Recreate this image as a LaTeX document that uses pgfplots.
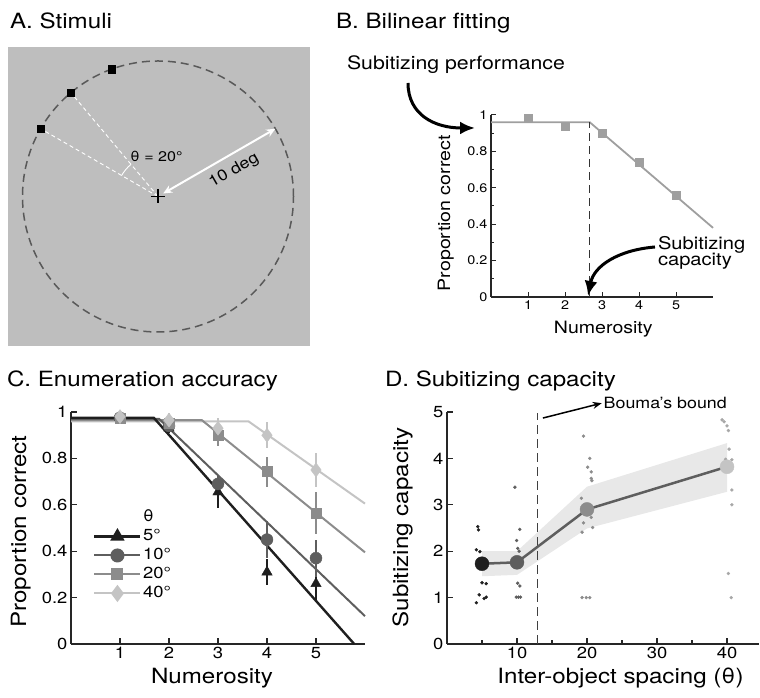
\documentclass[border=0pt]{standalone}
\usepackage{fontspec}
\setmainfont[FakeStretch=1.15]{TeX Gyre Heros}
\usepackage{pgfplots}
\pgfplotsset{compat=1.18}
\usetikzlibrary{arrows.meta}

\definecolor{bgA}{gray}{0.745}
\definecolor{dashA}{gray}{0.35}
\definecolor{c5}{gray}{0.12}
\definecolor{c10}{gray}{0.37}
\definecolor{c20}{gray}{0.55}
\definecolor{c40}{gray}{0.77}
\definecolor{band}{gray}{0.91}

\newcommand{\fs}[1]{\fontsize{#1}{#1}\selectfont}

\tikzset{lbl/.style={inner sep=0pt, outer sep=0pt}}

\pgfplotsset{
  panel/.style={
    scale only axis, anchor=south west, clip=false,
    axis x line*=bottom, axis y line*=left,
    tick align=inside,
    axis line style={line width=1.8pt, black!85},
    major tick length=6pt, minor tick length=4pt,
    every tick/.style={black!85, line width=1.2pt},
    ticklabel style={font=\fs{16}},
    /pgf/number format/assume math mode=true,
  },
}

\begin{document}
\begin{tikzpicture}[x=1pt,y=1pt]
\path[use as bounding box] (0,0) rectangle (760,698);

% ---------- titles
\node[lbl, anchor=base west, font=\fs{21}] at (10,669.7) {A. Stimuli};
\node[lbl, anchor=base west, font=\fs{21}] at (336,669.7) {B. Bilinear fitting};
\node[lbl, anchor=base west, font=\fs{21}] at (7,311.3) {C. Enumeration accuracy};
\node[lbl, anchor=base west, font=\fs{21}] at (385,311.3) {D. Subitizing capacity};

% ---------- A. Stimuli
\begin{axis}[at={(8pt,352pt)}, anchor=south west, scale only axis,
  width=302pt, height=299pt, xmin=-150, xmax=152, ymin=-149.5, ymax=149.5,
  axis lines=none, clip=false]
\fill[bgA] (axis cs:-150,-149.5) rectangle (axis cs:152,149.5);
\draw[dashA, line width=1.5pt, dash pattern=on 8pt off 5pt] (axis cs:0,0) circle[radius=135.5pt];
\addplot[white, line width=0.9pt, dash pattern=on 4pt off 3pt] coordinates {(0,0) (-87.1,103.8)};
\addplot[white, line width=0.9pt, dash pattern=on 4pt off 3pt] coordinates {(0,0) (-117.35,67.75)};
\draw[white, line width=0.9pt] (axis cs:-36.4,21) arc[start angle=150, end angle=130, radius=42pt];
\addplot[only marks, mark=square*, mark size=3.6pt, black] coordinates {(-46.34,127.33) (-87.1,103.8) (-117.35,67.75)};
\draw[white, line width=2pt, {Stealth[length=9pt,width=8pt]}-{Stealth[length=9pt,width=8pt]}] (axis cs:5.2,3) -- (axis cs:117.35,67.75);
\addplot[only marks, mark=+, mark size=7pt, line width=1.8pt, black] coordinates {(0,0)};
\node[lbl, font=\fs{14}] at (axis cs:-1.5,40.5) {θ = 20°};
\node[lbl, font=\fs{15.5}, rotate=30] at (axis cs:76,26) {10 deg};
\end{axis}

% ---------- B. Bilinear fitting
\begin{axis}[panel, at={(491pt,401pt)}, width=222pt, height=182pt,
  xmin=0, xmax=6, ymin=0, ymax=1,
  xtick={1,2,3,4,5}, ytick={0,0.2,0.4,0.6,0.8,1}, minor y tick num=1,
  axis line style={line width=1.3pt, black!85},
  major tick length=5pt, minor tick length=3pt,
  every tick/.style={black!85, line width=1pt},
  ticklabel style={font=\fs{12.5}}]
\addplot[gray!75, line width=1.8pt] coordinates {(0,0.96) (2.67,0.96) (6,0.38)};
\addplot[black!80, line width=1.2pt, dash pattern=on 8pt off 5pt] coordinates {(2.67,0) (2.67,0.96)};
\addplot[only marks, mark=square*, mark size=4pt, gray!75] coordinates {(1,0.98) (2,0.94) (3,0.90) (4,0.74) (5,0.56)};
\end{axis}
\node[lbl, anchor=base, rotate=90, font=\fs{17}] at (450,484.7) {Proportion correct};
\node[lbl, anchor=base, font=\fs{17}] at (603.3,364.7) {Numerosity};
\node[lbl, anchor=base west, font=\fs{18.5}] at (347,628) {Subitizing performance};
\node[lbl, anchor=north west, align=left, font=\fs{17.5}] at (658,462) {Subitizing\\[-1pt]capacity};
\draw[line width=3pt, -{Latex[length=15pt,width=13pt]}] (408,615) .. controls (408,583) and (435,570) .. (475,570);
\draw[line width=3pt, -{Latex[length=15pt,width=13pt]}] (655,451) .. controls (618,448) and (594,432) .. (588,402);

% ---------- C. Enumeration accuracy
\begin{axis}[panel, at={(71pt,54pt)}, width=294pt, height=232pt,
  xmin=0, xmax=6, ymin=0, ymax=1,
  xtick={1,2,3,4,5}, ytick={0,0.2,0.4,0.6,0.8,1},
  legend style={at={(0.075,0.585)}, anchor=north west, draw=none, fill=none,
    font=\fs{16}, row sep=1pt, inner sep=0pt,
    nodes={inner sep=1.5pt, text height=12pt, text depth=3pt}},
  legend cell align=left,
  legend image code/.code={\draw[mark repeat=2, mark phase=2, #1] plot coordinates {(0pt,0pt) (23pt,0pt) (46pt,0pt)};}]
\addlegendimage{empty legend}\addlegendentry{θ}
\addlegendimage{c5, line width=2.4pt, mark=triangle*, mark size=6pt, mark options={solid}}\addlegendentry{5°}
\addlegendimage{c10, line width=2pt, mark=*, mark size=6pt}\addlegendentry{10°}
\addlegendimage{c20, line width=2pt, mark=square*, mark size=5pt}\addlegendentry{20°}
\addlegendimage{c40, line width=2pt, mark=diamond*, mark size=7pt}\addlegendentry{40°}
% bilinear fits
\addplot[c40, line width=2pt, forget plot] coordinates {(0,0.96) (3.62,0.96) (6,0.605)};
\addplot[c20, line width=2pt, forget plot] coordinates {(0,0.965) (2.67,0.965) (6,0.395)};
\addplot[c10, line width=2pt, forget plot] coordinates {(0,0.97) (1.8,0.97) (6,0.12)};
\addplot[c5, line width=2.4pt, forget plot] coordinates {(0,0.975) (1.69,0.975) (5.78,0)};
% data with error bars
\addplot[c5, only marks, mark=triangle*, mark size=6pt, forget plot,
  error bars/.cd, y dir=both, y explicit, error mark=none, error bar style={line width=1.3pt}]
  coordinates {(1,0.975) +- (0,0.02) (2,0.93) +- (0,0.02) (3,0.655) +- (0,0.07) (4,0.31) +- (0,0.055) (5,0.26) +- (0,0.075)};
\addplot[c10, only marks, mark=*, mark size=6pt, forget plot,
  error bars/.cd, y dir=both, y explicit, error mark=none, error bar style={line width=1.3pt}]
  coordinates {(1,0.975) +- (0,0.02) (2,0.94) +- (0,0.02) (3,0.69) +- (0,0.04) (4,0.45) +- (0,0.08) (5,0.37) +- (0,0.08)};
\addplot[c20, only marks, mark=square*, mark size=5pt, forget plot,
  error bars/.cd, y dir=both, y explicit, error mark=none, error bar style={line width=1.3pt}]
  coordinates {(1,0.975) +- (0,0.02) (2,0.95) +- (0,0.02) (3,0.90) +- (0,0.045) (4,0.743) +- (0,0.065) (5,0.563) +- (0,0.09)};
\addplot[c40, only marks, mark=diamond*, mark size=7pt, forget plot,
  error bars/.cd, y dir=both, y explicit, error mark=none, error bar style={line width=1.3pt}]
  coordinates {(1,0.98) +- (0,0.02) (2,0.965) +- (0,0.03) (3,0.93) +- (0,0.045) (4,0.90) +- (0,0.055) (5,0.75) +- (0,0.072)};
\end{axis}
\node[lbl, anchor=base, rotate=90, font=\fs{21}] at (26,166.5) {Proportion correct};
\node[lbl, anchor=base, font=\fs{21}] at (212,14.7) {Numerosity};

% ---------- D. Subitizing capacity
\begin{axis}[panel, at={(447pt,54pt)}, width=311.5pt, height=232pt,
  xmin=0, xmax=44.5, ymin=0, ymax=5,
  xtick={10,20,30,40}, minor xtick={5,15,25,35}, ytick={0,1,2,3,4,5}]
\addplot[fill=band, draw=none] coordinates {(5,2.0) (10,2.0) (20,3.39) (40,4.33) (40,3.28) (20,2.49) (10,1.49) (5,1.46)} -- cycle;
\addplot[black!75, line width=1.3pt, dash pattern=on 9pt off 5pt] coordinates {(12.9,0) (12.9,4.97)};
\addplot[only marks, mark=*, mark size=1.5pt, c5] coordinates {(4.4,2.53) (4.5,2.46) (4.2,2.03) (4.7,1.99) (5.0,1.32) (5.6,1.30) (4.6,1.06) (5.6,1.01) (5.3,0.98) (4.2,0.89)};
\addplot[only marks, mark=*, mark size=1.5pt, c10] coordinates {(9.7,3.38) (10.4,2.47) (9.95,2.23) (10.1,2.06) (10.3,2.0) (10.1,1.31) (10.4,1.25) (9.9,1.01) (10.2,1.01) (10.5,1.01)};
\addplot[only marks, mark=*, mark size=1.5pt, c20] coordinates {(19.5,4.48) (20.4,4.0) (20.1,3.81) (20.6,3.71) (20.6,3.57) (20.7,3.52) (19.2,3.14) (19.5,2.61) (20.6,2.73) (20.8,2.51) (19.3,2.41) (19.3,1.0) (19.9,1.0) (20.4,1.0)};
\addplot[only marks, mark=*, mark size=1.5pt, c40!85!black] coordinates {(39.3,4.83) (39.6,4.79) (40.0,4.70) (40.2,4.60) (40.3,4.20) (39.8,3.98) (40.7,3.97) (40.7,3.32) (40.7,3.0) (40.2,1.52) (40.6,1.0)};
\addplot[c10, line width=2.5pt] coordinates {(5,1.73) (10,1.76) (20,2.9) (40,3.82)};
\addplot[only marks, mark=*, mark size=7pt, c5] coordinates {(5,1.73)};
\addplot[only marks, mark=*, mark size=7pt, c10] coordinates {(10,1.76)};
\addplot[only marks, mark=*, mark size=7pt, c20] coordinates {(20,2.9)};
\addplot[only marks, mark=*, mark size=7pt, c40] coordinates {(40,3.82)};
\draw[line width=1.5pt, -{Stealth[length=9pt,width=7pt]}] (axis cs:13.7,4.87) -- (axis cs:22.1,5.19)
  node[lbl, anchor=west, xshift=2pt, font=\fs{15.5}] {Bouma’s bound};
\end{axis}
\node[lbl, anchor=base, rotate=90, font=\fs{21}] at (408,170.5) {Subitizing capacity};
\node[lbl, anchor=base, font=\fs{21}] at (620.5,14.7) {Inter-object spacing (θ)};
\end{tikzpicture}
\end{document}
